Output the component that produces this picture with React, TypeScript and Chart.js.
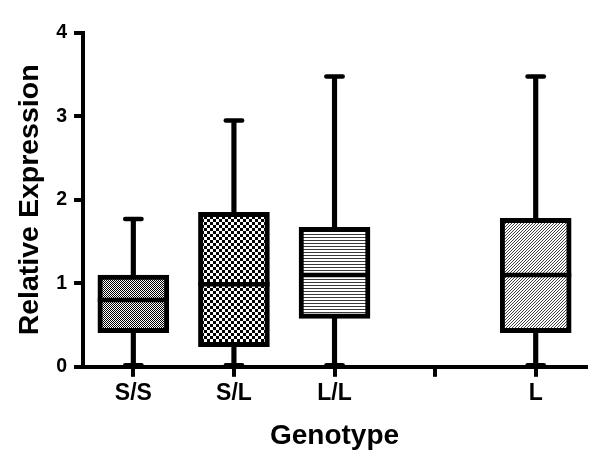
import React, { useEffect, useRef } from "react";
import { Chart, registerables } from "chart.js";

Chart.register(...registerables);

const categories = ["S/S", "S/L", "L/L", "", "L"];
const minValues = [0.02, 0.02, 0.02, null, 0.02];
const q1Values = [0.41, 0.24, 0.58, null, 0.41];
const medianValues = [0.8, 0.99, 1.1, null, 1.1];
const q3Values = [1.1, 1.85, 1.67, null, 1.78];
const maxValues = [1.77, 2.95, 3.48, null, 3.48];
const yTicks = [0, 1, 2, 3, 4];
const fillKinds = ["fineChecker", "checker", "hlines", "", "diag"];

const FONT = "'Liberation Sans', Arial, Helvetica, sans-serif";

function makePattern(kind: string): CanvasPattern | string {
  const c = document.createElement("canvas");
  const g = c.getContext("2d")!;
  if (kind === "fineChecker") {
    c.width = 2; c.height = 2;
    g.fillStyle = "#ffffff"; g.fillRect(0, 0, 2, 2);
    g.fillStyle = "#000000"; g.fillRect(0, 0, 1, 1); g.fillRect(1, 1, 1, 1);
  } else if (kind === "checker") {
    c.width = 6; c.height = 6;
    g.fillStyle = "#ffffff"; g.fillRect(0, 0, 6, 6);
    g.fillStyle = "#000000"; g.fillRect(0, 0, 3, 3); g.fillRect(3, 3, 3, 3);
  } else if (kind === "hlines") {
    c.width = 2; c.height = 3;
    g.fillStyle = "#ffffff"; g.fillRect(0, 0, 2, 3);
    g.fillStyle = "#3a3a3a"; g.fillRect(0, 0, 2, 1);
  } else if (kind === "diag") {
    c.width = 3; c.height = 3;
    g.fillStyle = "#ffffff"; g.fillRect(0, 0, 3, 3);
    g.fillStyle = "#404040";
    g.fillRect(2, 0, 1, 1); g.fillRect(1, 1, 1, 1); g.fillRect(0, 2, 1, 1);
  } else {
    return "#ffffff";
  }
  const p = g.createPattern(c, "repeat");
  return p || "#888888";
}

const boxDetailPlugin = {
  id: "boxDetail",
  afterDatasetsDraw(chart: any) {
    const ctx = chart.ctx;
    const xs = chart.scales.x;
    const ys = chart.scales.y;
    const boxMeta = chart.getDatasetMeta(0);
    ctx.save();
    ctx.strokeStyle = "#000000";
    ctx.lineWidth = 4.5;
    for (let i = 0; i < categories.length; i++) {
      const med = medianValues[i];
      if (med == null) continue;
      const cx = xs.getPixelForValue(i);
      const el = boxMeta.data[i];
      const half = el ? el.width / 2 : 35;
      ctx.lineCap = "butt";
      const ym = ys.getPixelForValue(med);
      ctx.beginPath();
      ctx.moveTo(cx - half, ym);
      ctx.lineTo(cx + half, ym);
      ctx.stroke();
      ctx.lineCap = "round";
      const capHalf = half * 0.23;
      for (const v of [maxValues[i], minValues[i]]) {
        if (v == null) continue;
        const yv = ys.getPixelForValue(v);
        ctx.beginPath();
        ctx.moveTo(cx - capHalf, yv);
        ctx.lineTo(cx + capHalf, yv);
        ctx.stroke();
      }
    }
    ctx.restore();
  },
};

export default function App() {
  const ref = useRef<HTMLCanvasElement | null>(null);
  useEffect(() => {
    if (!ref.current) return;
    const fills = fillKinds.map((k) => makePattern(k));
    const boxData = categories.map((_, i) =>
      q1Values[i] == null ? null : [q1Values[i], q3Values[i]]
    );
    const whiskerData = categories.map((_, i) =>
      minValues[i] == null ? null : [minValues[i], maxValues[i]]
    );
    const chart = new Chart(ref.current, {
      type: "bar",
      data: {
        labels: categories,
        datasets: [
          {
            label: "box",
            data: boxData as any,
            backgroundColor: fills as any,
            borderColor: "#000000",
            borderWidth: 5,
            borderSkipped: false,
            barThickness: 71,
            grouped: false,
            order: 0,
          },
          {
            label: "whisker",
            data: whiskerData as any,
            backgroundColor: "#000000",
            borderWidth: 0,
            barThickness: 4.5,
            grouped: false,
            order: 1,
          },
        ],
      },
      options: {
        animation: false,
        responsive: true,
        maintainAspectRatio: false,
        layout: { padding: { top: 33, right: 15, bottom: 10, left: 3 } },
        plugins: {
          legend: { display: false },
          tooltip: { enabled: false },
        },
        scales: {
          x: {
            type: "category",
            offset: true,
            grid: {
              display: true,
              drawOnChartArea: false,
              drawTicks: true,
              tickLength: 10,
              lineWidth: 4,
              color: "#000000",
              offset: false,
            },
            border: { display: true, width: 4, color: "#000000" },
            ticks: {
              color: "#000000",
              padding: 3,
              font: { family: FONT, size: 23, weight: "bold" },
            },
            title: {
              display: true,
              text: "Genotype",
              color: "#000000",
              padding: { top: 9, bottom: 4 },
              font: { family: FONT, size: 28, weight: "bold" },
            },
          },
          y: {
            min: 0,
            max: 4,
            afterBuildTicks: (scale: any) => {
              scale.ticks = yTicks.map((v) => ({ value: v }));
            },
            grid: {
              display: true,
              drawOnChartArea: false,
              drawTicks: true,
              tickLength: 9,
              lineWidth: 4,
              color: "#000000",
            },
            border: { display: true, width: 4, color: "#000000" },
            ticks: {
              color: "#000000",
              padding: 7,
              font: { family: FONT, size: 19.5, weight: "bold" },
            },
            title: {
              display: true,
              text: "Relative Expression",
              color: "#000000",
              padding: { top: 10, bottom: 2 },
              font: { family: FONT, size: 28.5, weight: "bold" },
            },
          },
        },
      },
      plugins: [boxDetailPlugin],
    });
    return () => chart.destroy();
  }, []);
  return (
    <div style={{ position: "absolute", left: 0, top: 0, width: 601, height: 467, background: "#ffffff" }}>
      <canvas ref={ref} />
    </div>
  );
}
